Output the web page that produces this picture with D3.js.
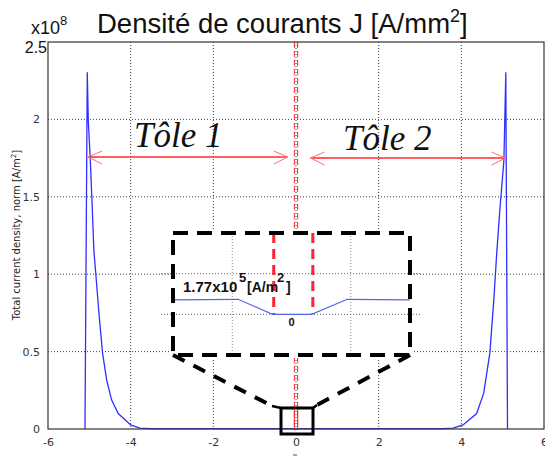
<!DOCTYPE html>
<html>
<head>
<meta charset="utf-8">
<script src="https://cdn.jsdelivr.net/npm/d3@7"></script>
<style>
  body { margin: 0; background: #fff; }
  svg { display: block; }
</style>
</head>
<body>
<div id="chart"></div>
<script>
// current density along z, units of 1e8 A/m^2
const curveX = [-5.105, -5.05, -5.025, -4.98, -4.94, -4.89, -4.84, -4.76, -4.68, -4.58, -4.46, -4.3, -4.0, -3.78, -3.53,
  -0.12, -0.04, 0.04, 0.12,
  3.56, 3.8, 4.04, 4.37, 4.54, 4.69, 4.79, 4.85, 4.93, 5.03, 5.076, 5.117];
const curveY = [0, 2.305, 1.99, 1.757, 1.5, 1.155, 0.99, 0.725, 0.49, 0.316, 0.187, 0.1, 0.026, 0.005, 0.0018,
  0.0018, 0, 0, 0.0018,
  0.0018, 0.005, 0.026, 0.1, 0.23, 0.49, 0.85, 1.11, 1.41, 1.735, 2.305, 0];
const xTicks = [-6, -4, -2, 0, 2, 4, 6];
const yTicks = [0, 0.5, 1, 1.5, 2];
const sheetEdges = [-0.04, 0.04];
// zoomed inset, units of 1e5 A/m^2
const insetX = [-1, -0.45, -0.16, 0.17, 0.47, 1];
const insetY = [1.77, 1.85, 0, 0, 1.85, 1.77];
const insetEdges = [-0.15, 0.18];
const insetGridX = [-0.5, 0.5];
const insetGridY = [0, 5];

const width = 545, height = 457;
const svg = d3.select("#chart").append("svg")
  .attr("width", width).attr("height", height);

const x = d3.scaleLinear().domain([-6, 6]).range([48, 544]);
const y = d3.scaleLinear().domain([0, 2.5]).range([429, 42]);

// grid
svg.append("g").selectAll("line").data(xTicks.slice(1, -1)).join("line")
  .attr("x1", d => x(d)).attr("x2", d => x(d))
  .attr("y1", y(2.5)).attr("y2", y(0))
  .attr("stroke", "#444").attr("stroke-dasharray", "1,2");
svg.append("g").selectAll("line").data(yTicks.slice(1)).join("line")
  .attr("x1", x(-6)).attr("x2", x(6))
  .attr("y1", d => y(d)).attr("y2", d => y(d))
  .attr("stroke", "#444").attr("stroke-dasharray", "1,2");

// sheet boundaries (red dashed)
svg.append("g").selectAll("line").data(sheetEdges).join("line")
  .attr("x1", d => x(d)).attr("x2", d => x(d))
  .attr("y1", y(2.5)).attr("y2", y(0))
  .attr("stroke", "#ff2020").attr("stroke-width", 1)
  .attr("stroke-dasharray", "6,3");

// curve
const line = d3.line().x((d, i) => x(curveX[i])).y(d => y(d));
svg.append("path").datum(curveY)
  .attr("d", line)
  .attr("fill", "none")
  .attr("stroke", "#2f2fff")
  .attr("stroke-width", 1.3);

// axes
const xAxis = svg.append("g").attr("transform", `translate(0,${y(0)})`)
  .call(d3.axisBottom(x).tickValues(xTicks).tickSize(0).tickPadding(9)
    .tickFormat(d => String(d)));
const yAxis = svg.append("g").attr("transform", `translate(${x(-6)},0)`)
  .call(d3.axisLeft(y).tickValues(yTicks).tickSize(0).tickPadding(8)
    .tickFormat(d => String(d)));
[xAxis, yAxis].forEach(a => {
  a.select(".domain").remove();
  a.selectAll("text").attr("font-family", "DejaVu Sans").attr("font-size", 11).attr("fill", "#333");
});
svg.append("rect")
  .attr("x", x(-6)).attr("y", y(2.5))
  .attr("width", x(6) - x(-6)).attr("height", y(0) - y(2.5))
  .attr("fill", "none").attr("stroke", "#333").attr("stroke-width", 1.2);

svg.append("text").attr("x", 47).attr("y", 53)
  .attr("text-anchor", "end")
  .attr("font-family", "Liberation Sans").attr("font-size", 16).attr("fill", "#111")
  .text("2.5");
const expo = svg.append("text").attr("x", 31).attr("y", 34)
  .attr("font-family", "Liberation Sans").attr("font-size", 18).attr("fill", "#111");
expo.append("tspan").text("x10");
expo.append("tspan").attr("dy", -9).attr("font-size", 13).text("8");

// title
const title = svg.append("text").attr("x", 97).attr("y", 33)
  .attr("font-family", "Liberation Sans").attr("font-size", 27.5).attr("fill", "#111");
title.append("tspan").text("Densité de courants J [A/mm");
title.append("tspan").attr("dy", -11).attr("font-size", 18).text("2");
title.append("tspan").attr("dy", 11).text("]");

// y label
const ylab = svg.append("text")
  .attr("transform", "translate(20,235) rotate(-90)")
  .attr("text-anchor", "middle")
  .attr("font-family", "DejaVu Sans").attr("font-size", 10).attr("fill", "#222");
ylab.append("tspan").text("Total current density, norm [A/m");
ylab.append("tspan").attr("dy", -4).attr("font-size", 7).text("2");
ylab.append("tspan").attr("dy", 4).text("]");

// stray mark of the cut x label
svg.append("line").attr("x1", 293).attr("x2", 297).attr("y1", 455).attr("y2", 455)
  .attr("stroke", "#555");

// sheet arrows
const arrowY = 157;
function arrow(x1, x2, yy) {
  const g = svg.append("g");
  g.append("line").attr("x1", x1).attr("x2", x2).attr("y1", yy).attr("y2", yy)
    .attr("stroke", "#ff2a2a").attr("stroke-width", 1.3);
  [[x1, 1], [x2, -1]].forEach(([px, s]) => {
    g.append("path")
      .attr("d", `M${px + s * 14},${yy - 6}L${px},${yy}L${px + s * 14},${yy + 7}`)
      .attr("fill", "none").attr("stroke", "#ff7070").attr("stroke-width", 1);
  });
}
arrow(x(-5.03), x(-0.2), arrowY);
arrow(x(0.35), x(5.07), arrowY + 1);

svg.append("text").attr("x", 134).attr("y", 147)
  .attr("font-family", "Liberation Serif").attr("font-style", "italic")
  .attr("font-size", 35).attr("fill", "#111").text("Tôle 1");
svg.append("text").attr("x", 343).attr("y", 150)
  .attr("font-family", "Liberation Serif").attr("font-style", "italic")
  .attr("font-size", 35).attr("fill", "#111").text("Tôle 2");

// zoom square on the plot
const sq = { x0: 281, x1: 313, y0: 408, y1: 434 };
const box = { x0: 173, x1: 410, y0: 233, y1: 355 };

// inset
const ix = d3.scaleLinear().domain([-1, 1]).range([box.x0, box.x1]);
const iy = d3.scaleLinear().domain([-5, 10]).range([box.y1, box.y0]);
const inset = svg.append("g");
inset.append("rect").attr("x", box.x0 - 3).attr("y", box.y0 - 3)
  .attr("width", box.x1 - box.x0 + 6).attr("height", box.y1 - box.y0 + 6)
  .attr("fill", "#fff");
inset.selectAll(".igx").data(insetGridX).join("line")
  .attr("x1", d => ix(d)).attr("x2", d => ix(d))
  .attr("y1", box.y0).attr("y2", box.y1)
  .attr("stroke", "#888").attr("stroke-dasharray", "1,2");
inset.selectAll(".igy").data(insetGridY).join("line")
  .attr("x1", box.x0 - 12).attr("x2", box.x1 + 12)
  .attr("y1", d => iy(d)).attr("y2", d => iy(d))
  .attr("stroke", "#666").attr("stroke-dasharray", "1,2");
inset.selectAll(".ied").data(insetEdges).join("line")
  .attr("x1", d => ix(d)).attr("x2", d => ix(d))
  .attr("y1", box.y0).attr("y2", iy(0))
  .attr("stroke", "#ff2233").attr("stroke-width", 3)
  .attr("stroke-dasharray", "10,6");
const iline = d3.line().x((d, i) => ix(insetX[i])).y(d => iy(d));
inset.append("path").datum(insetY).attr("d", iline)
  .attr("fill", "none").attr("stroke", "#5566ee").attr("stroke-width", 1.2);

const lab = inset.append("text").attr("font-family", "Liberation Sans")
  .attr("font-weight", "bold").attr("fill", "#111");
lab.append("tspan").attr("x", 183).attr("y", 292).attr("font-size", 15).text("1.77x10");
lab.append("tspan").attr("x", 239).attr("y", 282).attr("font-size", 13).text("5");
lab.append("tspan").attr("x", 247).attr("y", 292).attr("font-size", 14).text("[A/m");
lab.append("tspan").attr("x", 277).attr("y", 282).attr("font-size", 13).text("2");
lab.append("tspan").attr("x", 286).attr("y", 292).attr("font-size", 14).text("]");
inset.append("text").attr("x", ix(0)).attr("y", 326).attr("text-anchor", "middle")
  .attr("font-family", "Liberation Sans").attr("font-weight", "bold")
  .attr("font-size", 11).attr("fill", "#111").text("0");

inset.append("rect").attr("x", box.x0).attr("y", box.y0)
  .attr("width", box.x1 - box.x0).attr("height", box.y1 - box.y0)
  .attr("fill", "none").attr("stroke", "#000").attr("stroke-width", 4)
  .attr("stroke-dasharray", "15,9");

// connectors
svg.append("path")
  .attr("d", `M${box.x0},${box.y1}L272,406`)
  .attr("fill", "none").attr("stroke", "#000").attr("stroke-width", 4)
  .attr("stroke-dasharray", "13,10");
svg.append("path")
  .attr("d", `M${box.x1},${box.y1}L317,405`)
  .attr("fill", "none").attr("stroke", "#000").attr("stroke-width", 4)
  .attr("stroke-dasharray", "13,10");
svg.append("path").attr("d", `M272,406L${sq.x0},${sq.y0}M317,405L${sq.x1},${sq.y0}`)
  .attr("stroke", "#000").attr("stroke-width", 2.5);

// red edges inside the square are solid
svg.selectAll(".sqe").data(sheetEdges).join("line")
  .attr("x1", d => x(d)).attr("x2", d => x(d))
  .attr("y1", sq.y0).attr("y2", y(0))
  .attr("stroke", "#ff2020").attr("stroke-width", 1);
svg.append("rect").attr("x", sq.x0).attr("y", sq.y0)
  .attr("width", sq.x1 - sq.x0).attr("height", sq.y1 - sq.y0)
  .attr("fill", "none").attr("stroke", "#000").attr("stroke-width", 3);
</script>
</body>
</html>
